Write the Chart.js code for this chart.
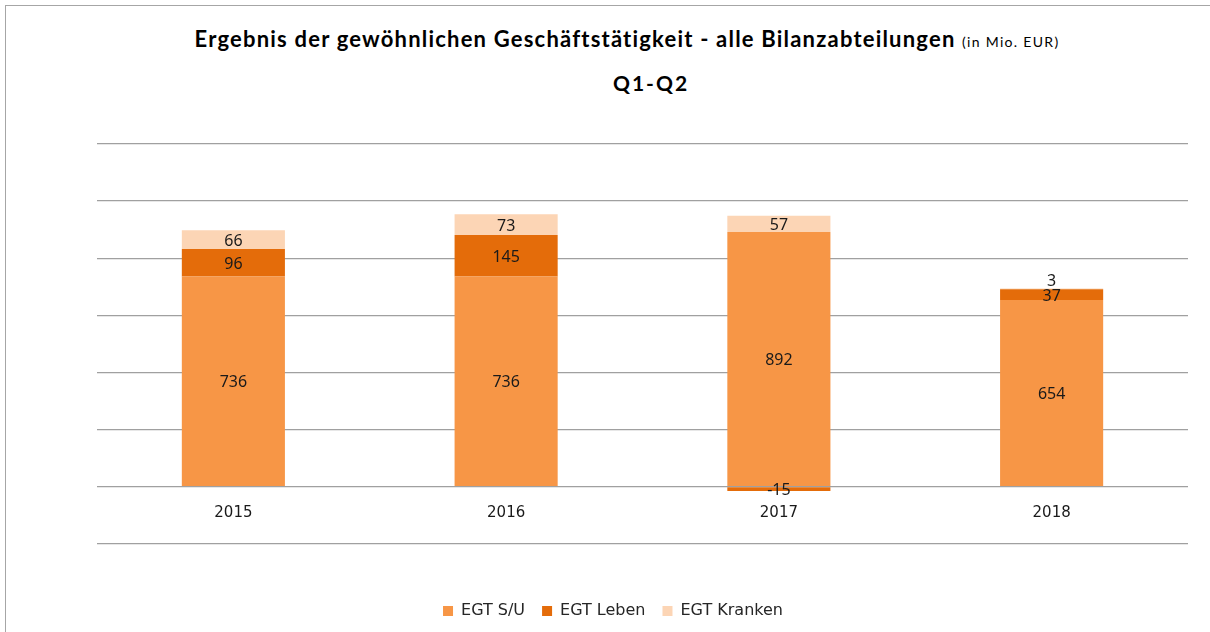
<!DOCTYPE html>
<html>
<head>
<meta charset="utf-8">
<script src="https://cdn.jsdelivr.net/npm/chart.js@4"></script>
<style>
  html, body { margin: 0; padding: 0; background: #fff; }
  #wrap { position: relative; width: 1210px; height: 632px; overflow: hidden; }
  #frame { position: absolute; left: 5px; top: 5px; width: 1220px; height: 640px; border: 1.5px solid #a6a6a6; }
  .title { position: absolute; transform: translateX(-50%); white-space: nowrap; font-family: Lato, sans-serif; font-weight: bold; color: #000; line-height: 1; }
  #t1 { left: 627px; top: 28px; font-size: 22px; letter-spacing: 1.2px; }
  #t1 small { font-size: 14px; font-weight: normal; letter-spacing: 1.3px; }
  #t2 { left: 651px; top: 72px; font-size: 21px; letter-spacing: 2px; }
  canvas { position: absolute; left: 0; top: 0; }
</style>
</head>
<body>
<div id="wrap">
  <div id="frame"></div>
  <div class="title" id="t1">Ergebnis der gewöhnlichen Geschäftstätigkeit - alle Bilanzabteilungen <small>(in Mio. EUR)</small></div>
  <div class="title" id="t2">Q1-Q2</div>
  <canvas id="chart" width="1210" height="632"></canvas>
</div>
<script>
// Ergebnis der gewöhnlichen Geschäftstätigkeit, Q1-Q2 (Mio. EUR)
const years = ['2015', '2016', '2017', '2018'];
const egtSU = [736, 736, 892, 654];
const egtLeben = [96, 145, -15, 37];
const egtKranken = [66, 73, 57, 3];

// labels in the middle of each segment, tiny ones pushed above the bar
const segmentLabels = {
  id: 'segmentLabels',
  afterDatasetsDraw(chart) {
    const c = chart.ctx;
    c.save();
    c.font = '16px "Noto Sans", sans-serif';
    c.fillStyle = '#1a1a1a';
    c.textAlign = 'center';
    c.textBaseline = 'middle';
    chart.data.datasets.forEach((ds, i) => {
      chart.getDatasetMeta(i).data.forEach((bar, j) => {
        const h = Math.abs(bar.base - bar.y);
        let y = (bar.y + bar.base) / 2;
        if (h < 2) y = Math.min(bar.y, bar.base) - 9;
        c.fillText(String(ds.data[j]), bar.x, y + 1.5);
      });
    });
    c.restore();
  }
};

const ctx = document.getElementById('chart').getContext('2d');
const chart = new Chart(ctx, {
  type: 'bar',
  data: {
    labels: years,
    datasets: [
      { label: 'EGT S/U', data: egtSU, backgroundColor: '#f79646' },
      { label: 'EGT Leben', data: egtLeben, backgroundColor: '#e46c0a' },
      { label: 'EGT Kranken', data: egtKranken, backgroundColor: '#fcd5b5' }
    ]
  },
  options: {
    responsive: false,
    animation: false,
    datasets: {
      bar: { categoryPercentage: 1, barPercentage: 0.378, stack: 's' }
    },
    layout: { padding: { left: 16, right: 0, top: 144, bottom: 3 } },
    plugins: {
      legend: {
        position: 'bottom',
        title: { display: true, text: ' ', font: { size: 1 }, padding: 20.5 },
        labels: {
          boxWidth: 10, boxHeight: 10, padding: 17,
          color: '#262626',
          font: { family: '"DejaVu Sans", sans-serif', size: 16 }
        }
      },
      tooltip: { enabled: false }
    },
    scales: {
      x: {
        stacked: true,
        position: { y: 0 },
        grid: { display: false, drawTicks: false },
        border: { display: false },
        ticks: { color: '#1a1a1a', padding: 17, font: { family: '"DejaVu Sans", sans-serif', size: 15 } }
      },
      y: {
        stacked: true,
        min: -200, max: 1200,
        ticks: { display: false, stepSize: 200 },
        grid: { color: '#a0a0a0', lineWidth: 1.3, drawTicks: false },
        border: { display: false },
        afterFit(scale) { scale.width = 81; }
      },
      yRight: {
        position: 'right',
        ticks: { display: false },
        grid: { display: false, drawTicks: false },
        border: { display: false },
        afterFit(scale) { scale.width = 22; }
      }
    }
  },
  plugins: [segmentLabels]
});
</script>
</body>
</html>
